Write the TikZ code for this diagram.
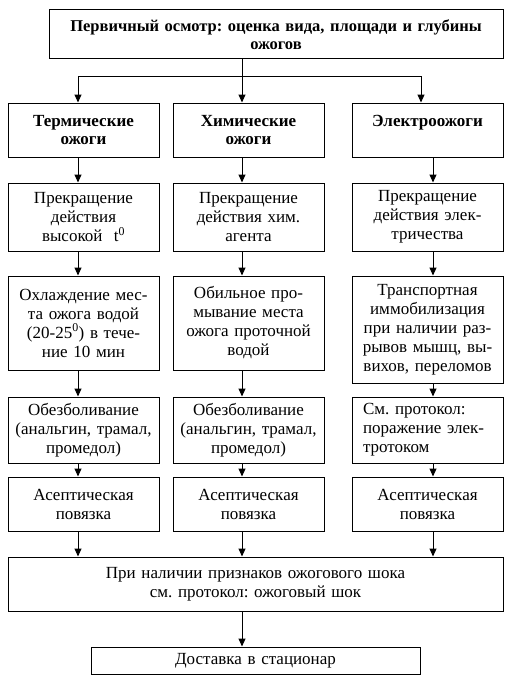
\documentclass[tikz,border=0pt]{standalone}
\usepackage{fontspec}
\setmainfont{Liberation Serif}
\usetikzlibrary{arrows.meta}
\frenchspacing
\begin{document}
\begin{tikzpicture}[x=1pt,y=-1pt,
  box/.style={draw, line width=1pt, inner sep=0pt, align=center, text width=140pt,
    minimum width=151pt, font=\rmfamily\fontsize{17}{19}\selectfont},
  head/.style={font=\rmfamily\bfseries\fontsize{17}{18.5}\selectfont},
  ln/.style={line width=1pt},
  arr/.style={line width=1pt, -{Triangle[length=8pt,width=7pt]}}]
\useasboundingbox (0,0) rectangle (513,685);
\coordinate (xa) at (78,0);
\coordinate (xb) at (242,0);
\coordinate (xc) at (433,0);
\coordinate (xf) at (421,0);
\coordinate (j) at (242,76);

\node[box, head, font=\rmfamily\bfseries\fontsize{16.5}{18.5}\selectfont, minimum width=454pt, text width=440pt, minimum height=49pt] (top) at (276,34.5)
  {Первичный осмотр: оценка вида, площади и глубины\\ожогов};

\node[box, head, minimum height=54pt] (r1a) at (83.5,130) {Термические\\ожоги};
\node[box, head, minimum height=54pt] (r1b) at (248.5,130) {Химические\\ожоги};
\node[box, head, minimum height=54pt] (r1c) at (427.5,130) {Электроожоги\\~};

\node[box, minimum height=68pt] (r2a) at (83.5,217) {Прекращение\\действия\\высокой~~t\textsuperscript{0}};
\node[box, minimum height=68pt] (r2b) at (248.5,217) {Прекращение\\действия хим.\\агента};
\node[box, minimum height=68pt] (r2c) at (427.5,217) {Прекращение\\действия элек-\\тричества};

\node[box, minimum height=94pt] (r3a) at (83.5,323) {Охлаждение мес-\\та ожога водой\\(20-25\textsuperscript{0}) в тече-\\ние 10 мин};
\node[box, minimum height=94pt] (r3b) at (248.5,323) {Обильное про-\\мывание места\\ожога проточной\\водой};
\node[box, minimum height=107pt] (r3c) at (427.5,329.5) {Транспортная\\иммобилизация\\при наличии раз-\\рывов мышц, вы-\\вихов, переломов};

\node[box, minimum height=66pt] (r4a) at (83.5,430) {Обезболивание\\(анальгин, трамал,\\промедол)};
\node[box, minimum height=66pt] (r4b) at (248.5,430) {Обезболивание\\(анальгин, трамал,\\промедол)};
\node[box, minimum height=66pt, text width=129pt, align=left] (r4c) at (427.5,430) {См. протокол:\\поражение элек-\\тротоком};

\node[box, minimum height=54pt] (r5a) at (83.5,504) {Асептическая\\повязка};
\node[box, minimum height=54pt] (r5b) at (248.5,504) {Асептическая\\повязка};
\node[box, minimum height=54pt] (r5c) at (427.5,504) {Асептическая\\повязка};

\node[box, minimum width=495pt, text width=480pt, minimum height=54pt] (shock) at (255.5,584)
  {При наличии признаков ожогового шока\\см. протокол: ожоговый шок};
\node[box, minimum width=329pt, text width=320pt, minimum height=27pt] (fin) at (255.5,660.5)
  {Доставка в стационар};

\draw[ln] (top.south -| xb) -- (j);
\draw[ln] (j -| xa) -- (j -| xf);
\draw[arr] (j -| xa) -- (r1a.north -| xa);
\draw[arr] (j) -- (r1b.north -| xb);
\draw[arr] (j -| xf) -- (r1c.north -| xf);

\draw[arr] (r1a.south -| xa) -- (r2a.north -| xa);
\draw[arr] (r1b.south -| xb) -- (r2b.north -| xb);
\draw[arr] (r1c.south -| xc) -- (r2c.north -| xc);

\draw[arr] (r2a.south -| xa) -- (r3a.north -| xa);
\draw[arr] (r2b.south -| xb) -- (r3b.north -| xb);
\draw[arr] (r2c.south -| xc) -- (r3c.north -| xc);

\draw[arr] (r3a.south -| xa) -- (r4a.north -| xa);
\draw[arr] (r3b.south -| xb) -- (r4b.north -| xb);
\draw[arr] (r3c.south -| xc) -- (r4c.north -| xc);

\draw[arr] (r4a.south -| xa) -- (r5a.north -| xa);
\draw[arr] (r4b.south -| xb) -- (r5b.north -| xb);
\draw[arr] (r4c.south -| xc) -- (r5c.north -| xc);

\draw[arr] (r5a.south -| xa) -- (shock.north -| xa);
\draw[arr] (r5b.south -| xb) -- (shock.north -| xb);
\draw[arr] (r5c.south -| xc) -- (shock.north -| xc);

\draw[arr] (shock.south -| xb) -- (fin.north -| xb);
\end{tikzpicture}
\end{document}
